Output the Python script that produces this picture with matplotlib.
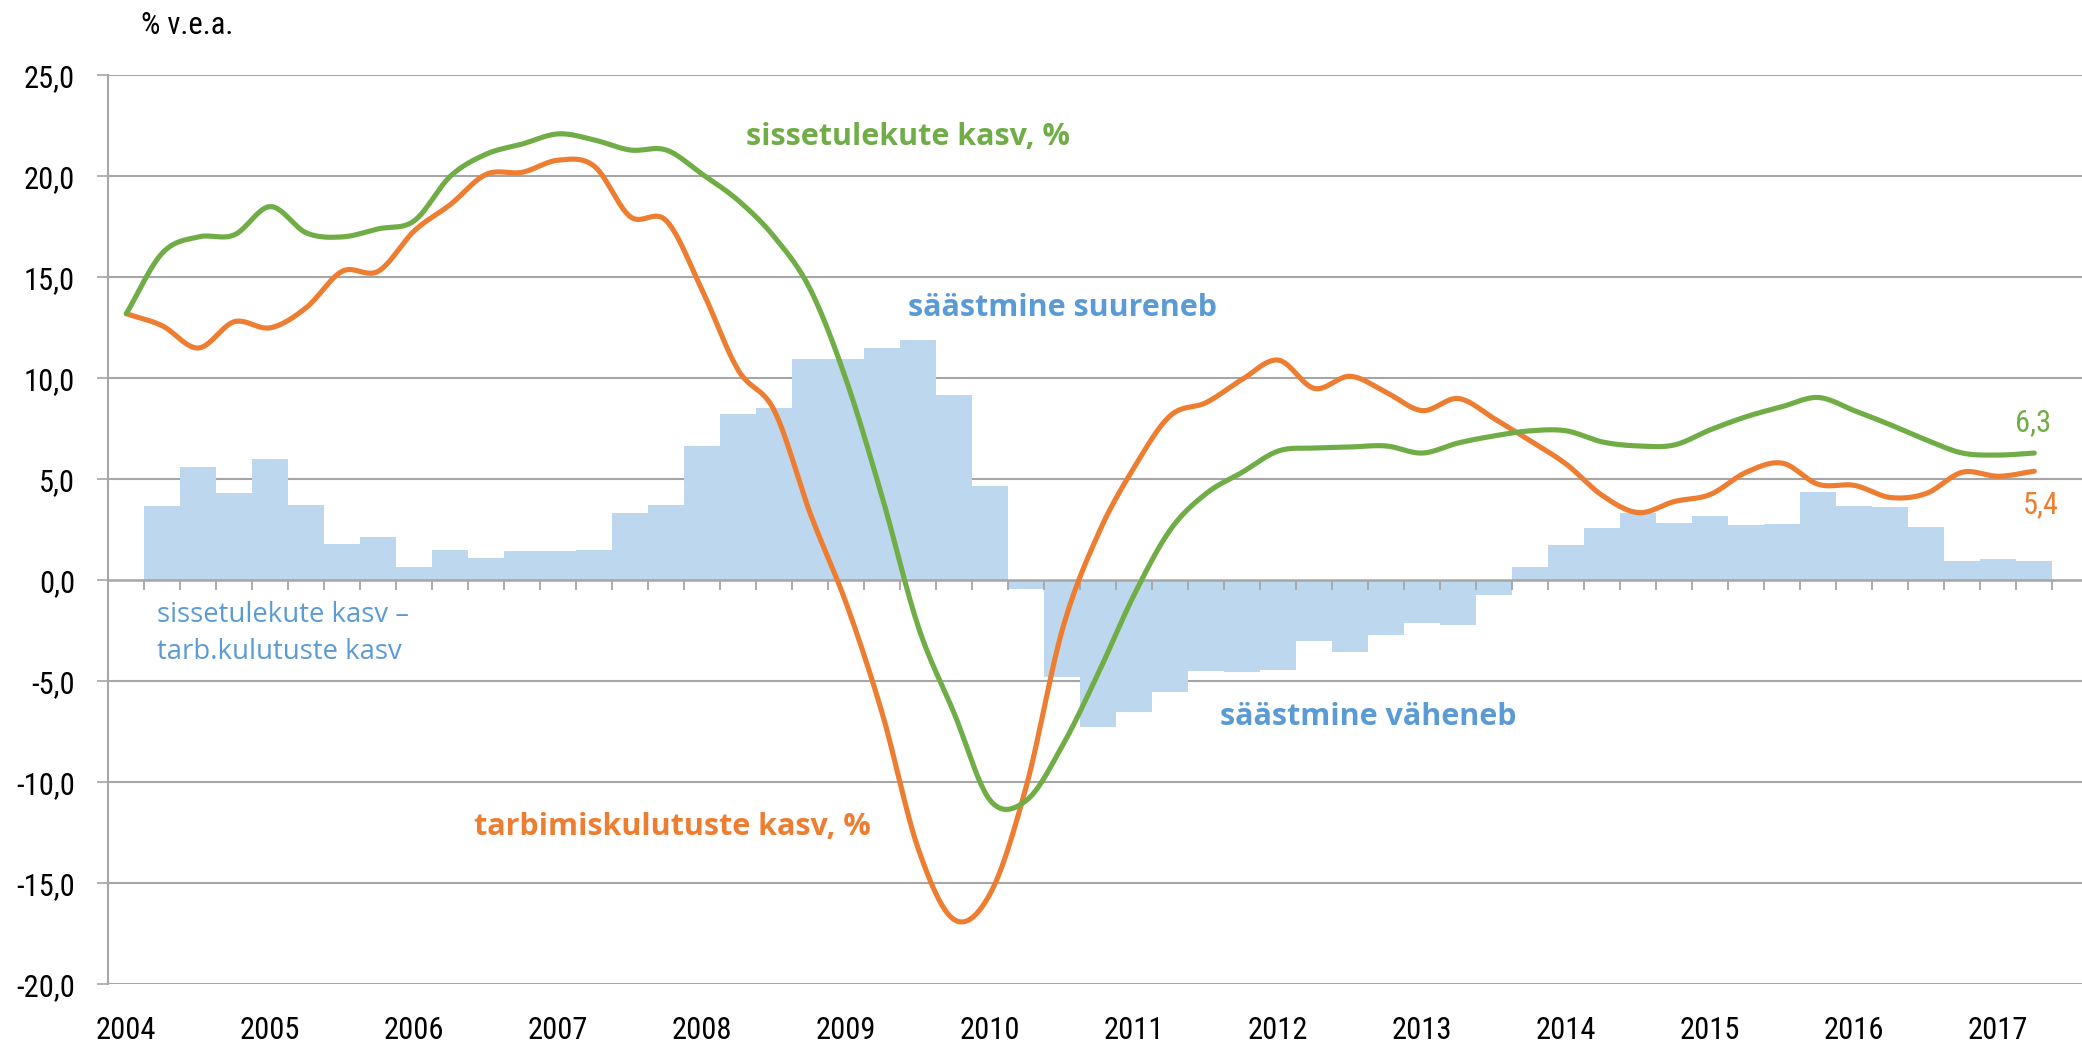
import numpy as np
import matplotlib
matplotlib.use("Agg")
import matplotlib.pyplot as plt

# kvartalid 2004Q1 ... 2017Q2
years = list(range(2004, 2018))
n_quarters = 54

# sissetulekute kasv, %
income = [13.2, 16.2, 17.0, 17.1, 18.5, 17.2, 17.0, 17.4, 17.8, 20.0,
          21.1, 21.6, 22.1, 21.8, 21.3, 21.3, 20.1, 18.8, 17.0, 14.4,
          9.9, 4.1, -2.3, -6.6, -10.9, -10.9, -8.2, -4.6, -0.7, 2.5,
          4.3, 5.35, 6.4, 6.55, 6.6, 6.65, 6.3, 6.8, 7.15, 7.4,
          7.4, 6.85, 6.65, 6.7, 7.45, 8.1, 8.6, 9.05, 8.4, 7.7,
          6.95, 6.3, 6.2, 6.3]

# tarbimiskulutuste kasv, %
consumption = [13.2, 12.6, 11.5, 12.8, 12.5, 13.5, 15.3, 15.3, 17.3, 18.6,
               20.1, 20.2, 20.8, 20.5, 18.0, 17.8, 14.35, 10.4, 8.4, 3.3,
               -1.15, -6.6, -13.3, -16.8, -15.5, -10.2, -2.45, 2.3, 5.6, 8.15,
               8.8, 9.95, 10.9, 9.5, 10.1, 9.3, 8.4, 9.0, 8.0, 6.9,
               5.75, 4.2, 3.35, 3.9, 4.25, 5.35, 5.8, 4.75, 4.7, 4.1,
               4.3, 5.35, 5.15, 5.4]

# sissetulekute kasv - tarb.kulutuste kasv
gap = [np.nan, 3.7, 5.6, 4.33, 6.0, 3.72, 1.79, 2.16, 0.64, 1.51,
       1.09, 1.44, 1.47, 1.49, 3.31, 3.72, 6.66, 8.25, 8.55, 10.96,
       10.96, 11.5, 11.88, 9.19, 4.68, -0.44, -4.8, -7.25, -6.5, -5.55,
       -4.48, -4.53, -4.45, -3.0, -3.54, -2.69, -2.11, -2.22, -0.74, 0.64,
       1.76, 2.6, 3.33, 2.82, 3.17, 2.73, 2.78, 4.35, 3.68, 3.65,
       2.63, 0.94, 1.04, 0.96]

green = "#70AD47"
orange = "#ED7D31"
blue_txt = "#5B9BD5"
bar_col = "#BDD7EE"
grid_col = "#A6A6A6"
num_font = ["Roboto Condensed", "PT Sans Narrow", "DejaVu Sans"]
txt_font = ["Open Sans", "Carlito", "DejaVu Sans"]


def smooth(y, per=24):
    # Exceli "silutud joon": kuupsplain puutujatega (P[i+1]-P[i-1])/2
    y = np.asarray(y, dtype=float)
    x = np.arange(len(y), dtype=float)
    m = np.gradient(y)
    xs, ys = [], []
    for i in range(len(y) - 1):
        t = np.linspace(0, 1, per, endpoint=False)
        h00 = 2 * t**3 - 3 * t**2 + 1
        h10 = t**3 - 2 * t**2 + t
        h01 = -2 * t**3 + 3 * t**2
        h11 = t**3 - t**2
        xs.append(x[i] + t)
        ys.append(h00 * y[i] + h10 * m[i] + h01 * y[i + 1] + h11 * m[i + 1])
    xs.append([x[-1]])
    ys.append([y[-1]])
    return np.concatenate(xs), np.concatenate(ys)


fig = plt.figure(figsize=(20.82, 10.46), dpi=100)
# joonise ala ulatub paremalt pildist veidi välja (nagu originaalis)
ax = fig.add_axes([108.3 / 2082, 1 - 984.3 / 1046, 1980 / 2082, 909 / 1046])

idx = np.arange(n_quarters)
ax.bar(idx, gap, width=1.0, color=bar_col, zorder=2, linewidth=0)

xg, yg = smooth(income)
xo, yo = smooth(consumption)
ax.plot(xo, yo, color=orange, lw=3.7, zorder=4, solid_capstyle="round")
ax.plot(xg, yg, color=green, lw=3.7, zorder=4, solid_capstyle="round")

ax.set_xlim(-0.5, 54.5)
ax.set_ylim(-20, 25)

# y-telg
yt = np.arange(-20, 26, 5)
ax.set_yticks(yt)
ax.set_yticklabels([f"{v:.1f}".replace(".", ",") for v in yt],
                   fontsize=22, family=num_font)
ax.tick_params(axis="y", length=8, width=1.2, color=grid_col, pad=16)
for v in yt:
    if v != 0:
        ax.axhline(v, color=grid_col, lw=1.5, zorder=1)
ax.axhline(0, color=grid_col, lw=1.8, zorder=3)

# kvartalite kriipsud nulljoonel
ax.vlines(np.arange(n_quarters + 1) - 0.5, -0.5, 0, color=grid_col, lw=1.3, zorder=3)

ax.set_xticks(np.arange(0, n_quarters, 4))
ax.set_xticklabels([str(y) for y in years], fontsize=22, family=num_font)
ax.tick_params(axis="x", length=0, pad=23)

for s in ["top", "right", "bottom"]:
    ax.spines[s].set_visible(False)
ax.spines["left"].set_color(grid_col)
ax.spines["left"].set_linewidth(1.5)

# tekstid
fig.text(141 / 2082, 1 - 25 / 1046, "% v.e.a.", fontsize=22, family=num_font,
         ha="left", va="center")

ax.text(21.71, 21.94, "sissetulekute kasv, %", color=green, fontsize=22,
        fontweight="bold", family=txt_font, ha="center", va="center")
ax.text(26.0, 13.48, "säästmine suureneb", color=blue_txt, fontsize=22,
        fontweight="bold", family=txt_font, ha="center", va="center")
ax.text(34.5, -6.77, "säästmine väheneb", color=blue_txt, fontsize=22,
        fontweight="bold", family=txt_font, ha="center", va="center")
ax.text(15.16, -12.2, "tarbimiskulutuste kasv, %", color=orange, fontsize=22,
        fontweight="bold", family=txt_font, ha="center", va="center")
ax.text(0.844, -2.05, "sissetulekute kasv –", color=blue_txt,
        fontsize=19.8, family=txt_font, ha="left", va="baseline")
ax.text(0.844, -3.9, "tarb.kulutuste kasv", color=blue_txt,
        fontsize=19.8, family=txt_font, ha="left", va="baseline")

ax.text(52.96, 7.79, "6,3", color=green, fontsize=22, family=num_font,
        ha="center", va="center")
ax.text(53.19, 3.73, "5,4", color=orange, fontsize=22, family=num_font,
        ha="center", va="center")

fig.savefig("out.png", dpi=100)
